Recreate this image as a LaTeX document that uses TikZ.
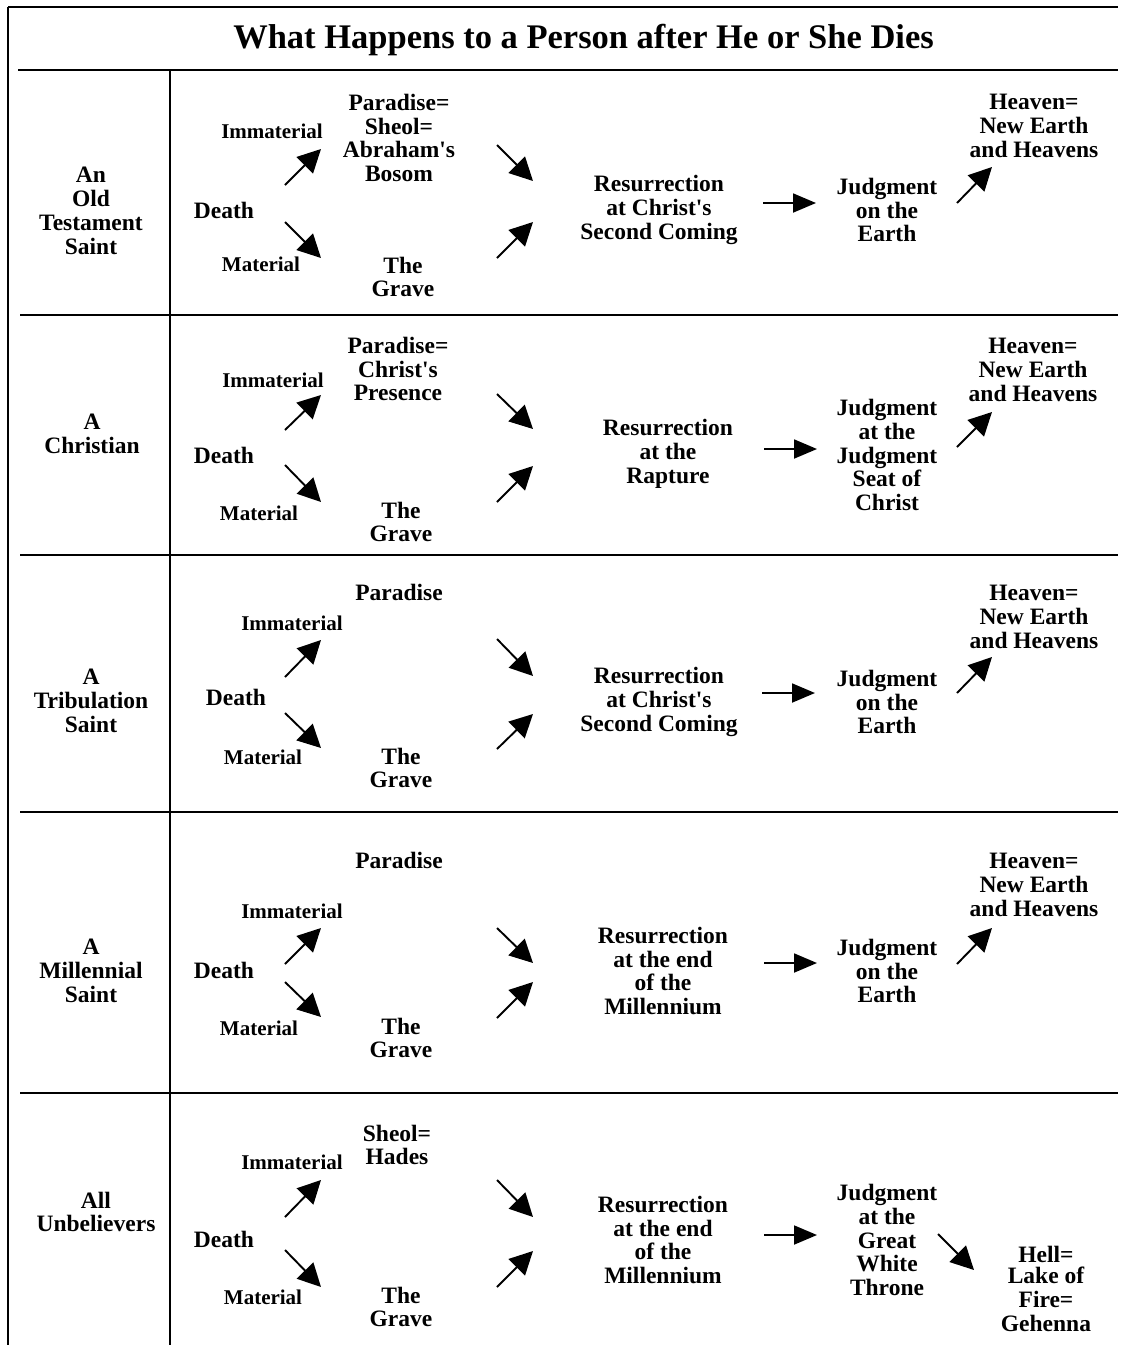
\documentclass[tikz,border=0pt]{standalone}
\usepackage{fontspec}
\setmainfont{Liberation Serif}
\usetikzlibrary{arrows.meta}
\newcommand\ap{\textquotesingle}
\newcommand\arw[5]{\coordinate (#1s) at (#2,#3); \coordinate (#1e) at (#4,#5); \draw[arr] (#1s) -- (#1e);}
\newcommand\harw[5]{\coordinate (#1s) at (#2,#3); \coordinate (#1e) at (#4,#5); \draw[harr] (#1s) -- (#1e);}
\tikzset{
  txt/.style={font=\bfseries\fontsize{23.5}{23.8}\selectfont, align=center, inner sep=0pt},
  sm/.style={font=\bfseries\fontsize{21}{22}\selectfont, inner sep=0pt},
  ttl/.style={font=\bfseries\fontsize{34.5}{36}\selectfont, inner sep=0pt},
  arr/.style={line width=1.9pt, -{Triangle[length=23pt,width=23pt]}},
  harr/.style={line width=1.9pt, -{Triangle[length=23pt,width=19pt]}},
  frame/.style={line width=2pt},
}
\begin{document}
\begin{tikzpicture}[x=1pt,y=-1pt]
\useasboundingbox (0,0) rectangle (1121,1345);
% frame
\draw[frame] (8,7) -- (1118,7);
\draw[frame] (8,7) -- (8,1345);
\draw[frame] (18,70) -- (1118,70);
\draw[frame] (170,70) -- (170,1345);
\draw[frame] (20,315) -- (1118,315);
\draw[frame] (20,555) -- (1118,555);
\draw[frame] (20,812) -- (1118,812);
\draw[frame] (20,1093) -- (1118,1093);
% title
\node[ttl,anchor=base] (title) at (583.5,48.5) {What Happens to a Person after He or She Dies};

% row 1
\node[txt] (r1lab) at (91,211) {An\\Old\\Testament\\Saint};
\node[sm] (r1imm) at (272,131) {Immaterial};
\node[txt] (r1death) at (224,210) {Death};
\node[sm] (r1mat) at (261,264) {Material};
\node[txt] (r1up) at (399,138) {Paradise=\\Sheol=\\Abraham\ap s\\Bosom};
\node[txt] (r1grave) at (403,277) {The\\Grave};
\node[txt] (r1res) at (659,210) {Resurrection\\at Christ\ap s\\Second Coming};
\node[txt] (r1jud) at (887,210) {Judgment\\on the\\Earth};
\node[txt] (r1fin) at (1034,126) {Heaven=\\New Earth\\and Heavens};
\arw{r1a}{285}{185}{321}{149}
\arw{r1b}{285}{222}{321}{258}
\arw{r1c}{497}{145}{533}{181}
\arw{r1d}{497}{258}{533}{222}
\harw{r1e}{763}{203}{816}{203}
\arw{r1f}{957}{203}{992}{167}

% row 2
\node[txt] (r2lab) at (92,434) {A\\Christian};
\node[sm] (r2imm) at (273,380) {Immaterial};
\node[txt] (r2death) at (224,455) {Death};
\node[sm] (r2mat) at (259,513) {Material};
\node[txt] (r2up) at (398,369) {Paradise=\\Christ\ap s\\Presence};
\node[txt] (r2grave) at (401,522) {The\\Grave};
\node[txt] (r2res) at (668,454) {Resurrection\\at the\\Rapture};
\node[txt] (r2jud) at (887,455) {Judgment\\at the\\Judgment\\Seat of\\Christ};
\node[txt] (r2fin) at (1033,370) {Heaven=\\New Earth\\and Heavens};
\arw{r2a}{285}{430}{321}{395}
\arw{r2b}{285}{465}{321}{502}
\arw{r2c}{497}{394}{533}{429}
\arw{r2d}{497}{502}{533}{466}
\harw{r2e}{764}{449}{817}{449}
\arw{r2f}{957}{447}{992}{412}

% row 3
\node[txt] (r3lab) at (91,701) {A\\Tribulation\\Saint};
\node[sm] (r3imm) at (292,623) {Immaterial};
\node[txt] (r3death) at (236,697) {Death};
\node[sm] (r3mat) at (263,757) {Material};
\node[txt] (r3up) at (399,592) {Paradise};
\node[txt] (r3grave) at (401,768) {The\\Grave};
\node[txt] (r3res) at (659,702) {Resurrection\\at Christ\ap s\\Second Coming};
\node[txt] (r3jud) at (887,702) {Judgment\\on the\\Earth};
\node[txt] (r3fin) at (1034,617) {Heaven=\\New Earth\\and Heavens};
\arw{r3a}{285}{677}{321}{640}
\arw{r3b}{285}{713}{321}{748}
\arw{r3c}{497}{639}{533}{676}
\arw{r3d}{497}{749}{533}{714}
\harw{r3e}{762}{693}{815}{693}
\arw{r3f}{957}{693}{992}{657}

% row 4
\node[txt] (r4lab) at (91,971) {A\\Millennial\\Saint};
\node[sm] (r4imm) at (292,911) {Immaterial};
\node[txt] (r4death) at (224,970) {Death};
\node[sm] (r4mat) at (259,1028) {Material};
\node[txt] (r4up) at (399,860) {Paradise};
\node[txt] (r4grave) at (401,1038) {The\\Grave};
\node[txt] (r4res) at (663,971) {Resurrection\\at the end\\of the\\Millennium};
\node[txt] (r4jud) at (887,971) {Judgment\\on the\\Earth};
\node[txt] (r4fin) at (1034,885) {Heaven=\\New Earth\\and Heavens};
\arw{r4a}{285}{964}{321}{928}
\arw{r4b}{285}{982}{321}{1017}
\arw{r4c}{497}{928}{533}{963}
\arw{r4d}{497}{1018}{533}{982}
\harw{r4e}{764}{963}{817}{963}
\arw{r4f}{957}{964}{992}{928}

% row 5
\node[txt] (r5lab) at (96,1212) {All\\Unbelievers};
\node[sm] (r5imm) at (292,1162) {Immaterial};
\node[txt] (r5death) at (224,1239) {Death};
\node[sm] (r5mat) at (263,1297) {Material};
\node[txt] (r5up) at (397,1145) {Sheol=\\Hades};
\node[txt] (r5grave) at (401,1307) {The\\Grave};
\node[txt] (r5res) at (663,1240) {Resurrection\\at the end\\of the\\Millennium};
\node[txt] (r5jud) at (887,1240) {Judgment\\at the\\Great\\White\\Throne};
\node[txt] (r5fin) at (1046,1289) {Hell=\\[-2.5pt]Lake of\\Fire=\\Gehenna};
\arw{r5a}{285}{1217}{321}{1180}
\arw{r5b}{285}{1250}{321}{1287}
\arw{r5c}{497}{1180}{533}{1217}
\arw{r5d}{497}{1287}{533}{1251}
\harw{r5e}{764}{1235}{817}{1235}
\arw{r5f}{938}{1234}{974}{1270}
\end{tikzpicture}
\end{document}
